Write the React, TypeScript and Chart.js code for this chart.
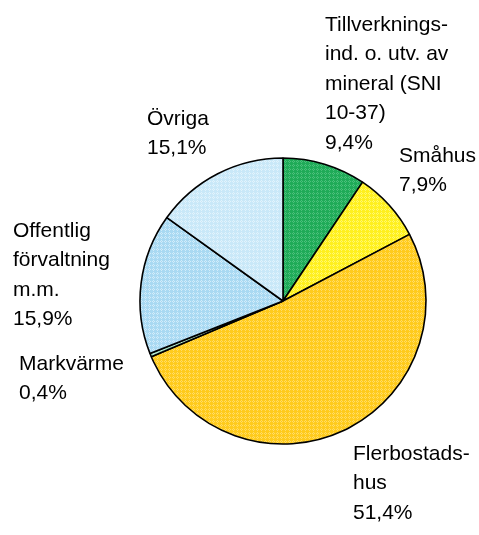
import React, { useEffect, useRef } from "react";
import { Chart, registerables } from "chart.js";

Chart.register(...registerables);

const categories = [
  "Tillverknings-ind. o. utv. av mineral (SNI 10-37)",
  "Småhus",
  "Flerbostadshus",
  "Markvärme",
  "Offentlig förvaltning m.m.",
  "Övriga",
];
const values = [9.4, 7.9, 51.4, 0.4, 15.9, 15.1];
const valueLabels = ["9,4%", "7,9%", "51,4%", "0,4%", "15,9%", "15,1%"];
const labelLines = [
  ["Tillverknings-", "ind. o. utv. av", "mineral (SNI", "10-37)"],
  ["Småhus"],
  ["Flerbostads-", "hus"],
  ["Markvärme"],
  ["Offentlig", "förvaltning", "m.m."],
  ["Övriga"],
];
const baseColors = ["#1fab58", "#fff01e", "#ffcb1c", "#9fdcc0", "#a9d9f2", "#c9e8f8"];
const dotColors = ["#4cc07c", "#fff86e", "#ffdc66", "#c4ecd8", "#d2ecfa", "#e2f3fc"];

// label anchor (left x, first baseline y) relative to pie centre
const labelOffsets = [
  [42, -270],
  [116, -139],
  [70, 159],
  [-264, 69],
  [-270, -64],
  [-136, -176],
];

function makePattern(base: string, dot: string): CanvasPattern | string {
  const c = document.createElement("canvas");
  c.width = 4;
  c.height = 4;
  const g = c.getContext("2d");
  if (!g) return base;
  g.fillStyle = base;
  g.fillRect(0, 0, 4, 4);
  g.fillStyle = dot;
  g.fillRect(1, 0, 1, 1);
  g.fillRect(0, 1, 1, 1);
  g.fillRect(2, 1, 1, 1);
  g.fillRect(1, 2, 1, 1);
  const p = g.createPattern(c, "repeat");
  return p || base;
}

const labelPlugin = {
  id: "sideLabels",
  afterDraw(chart: any) {
    const meta = chart.getDatasetMeta(0);
    const arc0 = meta.data[0];
    if (!arc0) return;
    const cx = arc0.x;
    const cy = arc0.y;
    const ctx = chart.ctx;
    const fontSize = 21;
    const lh = 29.4;
    ctx.save();
    ctx.fillStyle = "#000";
    ctx.font = `${fontSize}px "Liberation Sans", Arial, sans-serif`;
    ctx.textAlign = "left";
    ctx.textBaseline = "alphabetic";
    labelLines.forEach((lines, i) => {
      const [dx, dy] = labelOffsets[i];
      const x = cx + dx;
      let y = cy + dy;
      const all = [...lines, valueLabels[i]];
      all.forEach((t) => {
        ctx.fillText(t, x, y);
        y += lh;
      });
    });
    ctx.restore();
  },
};

export default function App() {
  const ref = useRef<HTMLCanvasElement>(null);
  useEffect(() => {
    if (!ref.current) return;
    const bg = baseColors.map((b, i) => makePattern(b, dotColors[i]));
    const chart = new Chart(ref.current, {
      type: "pie",
      data: {
        labels: categories,
        datasets: [
          {
            data: values,
            backgroundColor: bg as any,
            borderColor: "#000",
            borderWidth: 1.6,
          },
        ],
      },
      options: {
        responsive: false,
        animation: false,
        radius: 143,
        layout: { padding: { left: 133, right: 46, top: 151, bottom: 84 } },
        plugins: {
          legend: { display: false },
          tooltip: { enabled: false },
          title: { display: false },
        },
      } as any,
      plugins: [labelPlugin],
    });
    return () => chart.destroy();
  }, []);
  return (
    <div style={{ position: "fixed", left: 0, top: 0, width: 479, height: 535, background: "#fff" }}>
      <canvas ref={ref} width={479} height={535} style={{ width: 479, height: 535 }} />
    </div>
  );
}
